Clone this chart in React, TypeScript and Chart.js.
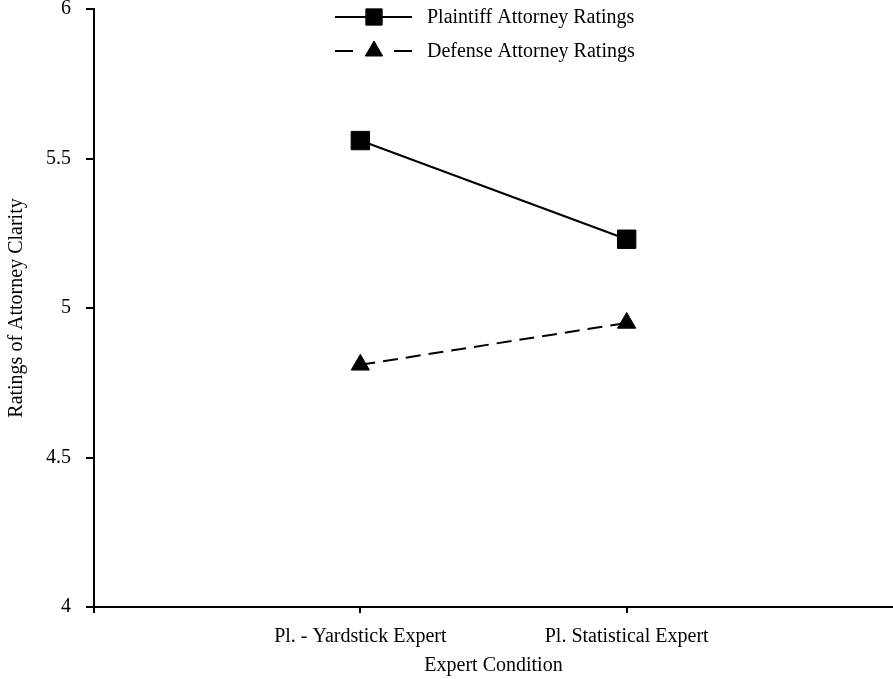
import React, { useEffect, useRef } from 'react';
import { Chart, registerables } from 'chart.js';
import { drawPoint } from 'chart.js/helpers';

Chart.register(...registerables);

const categories = ['Pl. - Yardstick Expert', 'Pl. Statistical Expert'];
const seriesNames = ['Plaintiff Attorney Ratings', 'Defense Attorney Ratings'];
const plaintiffRatings = [5.56, 5.23];
const defenseRatings = [4.81, 4.95];
const yTickValues = [4, 4.5, 5, 5.5, 6];
const xTitle = 'Expert Condition';
const yTitle = 'Ratings of Attorney Clarity';

const FONT = '"Liberation Serif", "Times New Roman", serif';

const insetLegend = {
  id: 'insetLegend',
  afterDraw(chart: any) {
    const ctx = chart.ctx;
    const x0 = 335;
    const len = 77;
    const textX = 427;
    const rows = [17, 51];
    chart.data.datasets.forEach((ds: any, i: number) => {
      const y = rows[i];
      ctx.save();
      ctx.strokeStyle = ds.borderColor;
      ctx.lineWidth = 2;
      ctx.setLineDash(ds.borderDash && ds.borderDash.length ? [18, 41] : []);
      ctx.beginPath();
      ctx.moveTo(x0, y);
      ctx.lineTo(x0 + len, y);
      ctx.stroke();
      ctx.setLineDash([]);
      ctx.fillStyle = ds.pointBackgroundColor;
      ctx.strokeStyle = ds.pointBorderColor;
      ctx.lineWidth = 1;
      const r = ds.pointStyle === 'rect' ? 11.5 : 10;
      drawPoint(ctx, { pointStyle: ds.pointStyle, rotation: 0, borderWidth: 1, radius: r }, x0 + 39, y);
      ctx.fillStyle = '#000';
      ctx.font = `20px ${FONT}`;
      ctx.textAlign = 'left';
      ctx.textBaseline = 'middle';
      ctx.fillText(ds.label, textX, y + 1);
      ctx.restore();
    });
  },
};

export default function App() {
  const canvasRef = useRef<HTMLCanvasElement | null>(null);

  useEffect(() => {
    const canvas = canvasRef.current;
    if (!canvas) return;
    const chart = new Chart(canvas, {
      type: 'line',
      data: {
        datasets: [
          {
            label: seriesNames[0],
            data: plaintiffRatings.map((v, i) => ({ x: i + 1, y: v })),
            borderColor: '#000',
            borderWidth: 2,
            pointStyle: 'rect',
            pointRadius: 13,
            pointBackgroundColor: '#000',
            pointBorderColor: '#000',
            pointBorderWidth: 1,
            borderDash: [],
          },
          {
            label: seriesNames[1],
            data: defenseRatings.map((v, i) => ({ x: i + 1, y: v })),
            borderColor: '#000',
            borderWidth: 2,
            borderDash: [15, 8],
            pointStyle: 'triangle',
            pointRadius: 10.5,
            pointBackgroundColor: '#000',
            pointBorderColor: '#000',
            pointBorderWidth: 1,
          },
        ],
      },
      options: {
        responsive: false,
        animation: false,
        layout: { autoPadding: false, padding: { top: 9, right: 0, bottom: 0, left: 0 } },
        plugins: {
          legend: { display: false },
          tooltip: { enabled: false },
        },
        scales: {
          x: {
            type: 'linear',
            min: 0,
            max: categories.length + 1,
            afterBuildTicks: (scale: any) => {
              const t = [{ value: 0 }];
              categories.forEach((_, i) => t.push({ value: i + 1 }));
              t.push({ value: categories.length + 1 });
              scale.ticks = t;
            },
            afterFit: (scale: any) => {
              scale.height = 72;
              scale.paddingLeft = 0;
              scale.paddingRight = 0;
            },
            ticks: {
              color: '#000',
              font: { family: FONT, size: 20 },
              padding: 12,
              maxRotation: 0,
              autoSkip: false,
              callback: (v: any) => categories[Number(v) - 1] ?? '',
            },
            grid: {
              drawOnChartArea: false,
              drawTicks: true,
              tickLength: 6,
              lineWidth: 2,
              color: (c: any) => (c.tick && c.tick.value === categories.length + 1 ? 'rgba(0,0,0,0)' : '#000'),
            },
            border: { display: true, color: '#000', width: 2 },
            title: {
              display: true,
              text: xTitle,
              color: '#000',
              font: { family: FONT, size: 20 },
              padding: { top: 0, bottom: 1 },
            },
          },
          y: {
            type: 'linear',
            min: 4,
            max: 6,
            afterBuildTicks: (scale: any) => {
              scale.ticks = yTickValues.map((v) => ({ value: v }));
            },
            afterFit: (scale: any) => {
              scale.width = 94;
              scale.paddingTop = 0;
              scale.paddingBottom = 0;
            },
            ticks: {
              color: '#000',
              font: { family: FONT, size: 20 },
              padding: 15,
              callback: (v: any) => String(v),
            },
            grid: {
              drawOnChartArea: false,
              drawTicks: true,
              tickLength: 8,
              lineWidth: 2,
              color: '#000',
            },
            border: { display: true, color: '#000', width: 2 },
            title: {
              display: true,
              text: yTitle,
              color: '#000',
              font: { family: FONT, size: 20 },
              padding: { top: 5, bottom: 0 },
            },
          },
        },
      },
      plugins: [insetLegend],
    } as any);
    return () => chart.destroy();
  }, []);

  return (
    <canvas
      ref={canvasRef}
      width={893}
      height={679}
      style={{ position: 'absolute', left: 0, top: 0, display: 'block', background: '#fff' }}
    />
  );
}
